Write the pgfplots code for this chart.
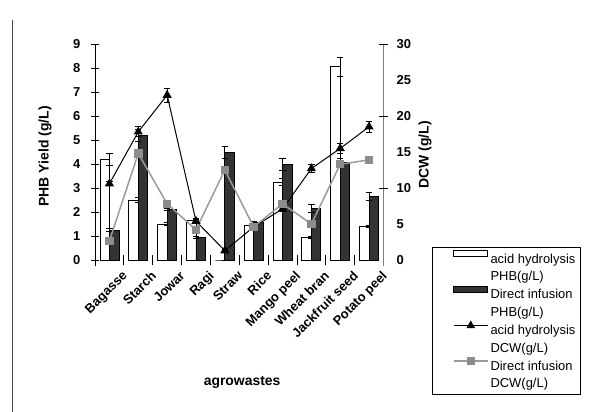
\documentclass[border=0pt]{standalone}
\usepackage{fontspec}
\setmainfont{Liberation Sans}
\usepackage{pgfplots}
\pgfplotsset{compat=1.18}
\usepackage{pgfplotstable}
\definecolor{darkbar}{HTML}{333333}
\definecolor{sqgray}{HTML}{8C8C8C}
\definecolor{lngray}{HTML}{9A9A9A}
\definecolor{axgray}{HTML}{808080}

\pgfplotstableread{
x w we d de ta tae sq sqe
0 4.2 0.25 1.25 0.05 10.6 0.3 2.65 0.2
1 2.5 0.12 5.2 0.25 17.8 0.7 14.8 0.4
2 1.5 0.05 2.1 0.05 22.9 1.0 7.8 0.3
3 1.65 0.1 0.95 0.05 5.4 0.3 4.2 0.2
4 0 0 4.5 0.25 1.3 0.2 12.5 0.3
5 1.45 0.05 1.55 0.05 4.6 0.2 4.6 0.2
6 3.25 0.15 4.0 0.25 7.1 0.3 7.8 0.3
7 0.95 0.05 2.15 0.15 12.7 0.6 5.0 0.3
8 8.05 0.4 4.05 0.2 15.5 0.7 13.3 0.4
9 1.4 0.05 2.65 0.15 18.5 0.8 13.9 0.5
}\data

\begin{document}
\begin{tikzpicture}
\path[use as bounding box] (0bp,0bp) rectangle (591bp,412bp);
\draw[black!70, line width=1.2bp] (12.5bp,0bp) -- (12.5bp,392bp);
\begin{axis}[
  at={(95bp,152bp)}, anchor=south west,
  scale only axis, width=288.5bp, height=216bp,
  xmin=-0.5, xmax=9.5, ymin=0, ymax=9,
  axis x line*=bottom, axis y line*=left,
  x axis line style={draw=none},
  y axis line style={black, line width=0.8bp, shorten <=-6bp},
  xtick={0,...,9},
  xticklabels={Bagasse,Starch,Jowar,Ragi,Straw,Rice,Mango peel,Wheat bran,Jackfruit seed,Potato peel},
  minor xtick={-0.5,0.5,...,9.5},
  major x tick style={draw=none},
  minor x tick style={black, line width=0.8bp},
  minor tick length=11bp,
  ytick={0,...,9},
  major tick length=7bp,
  tick align=center,
  ytick style={black, line width=0.8bp},
  /pgf/number format/assume math mode=true,
  yticklabel style={font=\bfseries\fontsize{13}{15}\selectfont, anchor=east, inner sep=0pt, xshift=-11bp},
  xticklabel style={font=\bfseries\fontsize{13}{15}\selectfont, rotate=45, anchor=north east, inner sep=0pt, xshift=4bp, yshift=-13bp},
  every axis y label/.style={at={(axis description cs:-0.173,0.48)}, rotate=90, anchor=center, font=\bfseries\fontsize{14}{16}\selectfont},
  ylabel={PHB Yield (g/L)},
  every axis x label/.style={at={(axis description cs:0.51,-0.565)}, anchor=center, font=\bfseries\fontsize{14}{16}\selectfont},
  xlabel={agrowastes},
  clip=false,
]
\addplot[ybar, bar width=9.5bp, bar shift=-4.75bp, draw=black, fill=white, line width=0.8bp,
  error bars/.cd, y dir=both, y explicit, error bar style={black, line width=0.8bp},
  error mark options={rotate=90, black, mark size=3.2bp, line width=0.8bp}]
  table[x=x, y=w, y error=we]{\data};
\addplot[ybar, bar width=9.5bp, bar shift=4.75bp, draw=black, fill=darkbar, line width=0.8bp,
  error bars/.cd, y dir=both, y explicit, error bar style={black, line width=0.8bp},
  error mark options={rotate=90, black, mark size=3.2bp, line width=0.8bp}]
  table[x=x, y=d, y error=de]{\data};
\end{axis}
\begin{axis}[
  at={(95bp,152bp)}, anchor=south west,
  scale only axis, width=288.5bp, height=216bp,
  xmin=-0.5, xmax=9.5, ymin=0, ymax=30,
  axis x line=none, axis y line*=right,
  y axis line style={axgray, line width=0.8bp, shorten <=-6bp},
  ytick={0,5,...,30},
  major y tick style={draw=none},
  extra y ticks={10,20,30},
  extra y tick labels={},
  extra y tick style={major tick length=9bp, tick align=center, major y tick style={draw=black, line width=0.8bp}},
  /pgf/number format/assume math mode=true,
  yticklabel style={font=\bfseries\fontsize{13}{15}\selectfont, anchor=west, inner sep=0pt, xshift=13bp},
  every axis y label/.style={at={(axis description cs:1.144,0.486)}, rotate=90, anchor=center, font=\bfseries\fontsize{14}{16}\selectfont},
  ylabel={DCW (g/L)},
  clip=false,
  legend style={at={(1.168,0.06)}, anchor=north west, draw=black, line width=0.8bp,
    font=\fontsize{13}{17.5}\selectfont, cells={align=left, anchor=west}, row sep=2bp,
    inner xsep=3bp, inner ysep=3bp},
  legend cell align=left,
]
\addlegendimage{legend image code/.code={\path (-18bp,0bp); \draw[black, fill=white, line width=0.8bp] (0bp,11bp) rectangle (34bp,17bp);}}
\addlegendentry{acid hydrolysis\\PHB(g/L)}
\addlegendimage{legend image code/.code={\path (-18bp,0bp); \draw[black, fill=darkbar, line width=0.8bp] (0bp,11bp) rectangle (34bp,17bp);}}
\addlegendentry{Direct infusion\\PHB(g/L)}
\addlegendimage{legend image code/.code={\path (-18bp,0bp); \draw[black, line width=1bp, mark=triangle*, mark size=4bp, mark repeat=2, mark phase=2] plot coordinates {(0bp,14bp) (17bp,14bp) (34bp,14bp)};}}
\addlegendentry{acid hydrolysis\\DCW(g/L)}
\addlegendimage{legend image code/.code={\path (-18bp,0bp); \draw[lngray, line width=1.5bp, mark=square*, mark size=3.5bp, mark options={fill=sqgray, draw=sqgray}, mark repeat=2, mark phase=2] plot coordinates {(0bp,14bp) (17bp,14bp) (34bp,14bp)};}}
\addlegendentry{Direct infusion\\DCW(g/L)}
\addplot[forget plot, black, line width=1bp, mark=triangle*, mark size=4.3bp, mark options={fill=black},
  error bars/.cd, y dir=both, y explicit, error bar style={black, line width=0.8bp},
  error mark options={rotate=90, black, mark size=3.2bp, line width=0.8bp}]
  table[x=x, y=ta, y error=tae]{\data};
\addplot[forget plot, lngray, line width=1.5bp, mark=square*, mark size=3.5bp, mark options={fill=sqgray, draw=sqgray},
  error bars/.cd, y dir=both, y explicit, error bar style={black, line width=0.8bp},
  error mark options={rotate=90, black, mark size=3.2bp, line width=0.8bp}]
  table[x=x, y=sq, y error=sqe]{\data};
\end{axis}
\end{tikzpicture}
\end{document}
